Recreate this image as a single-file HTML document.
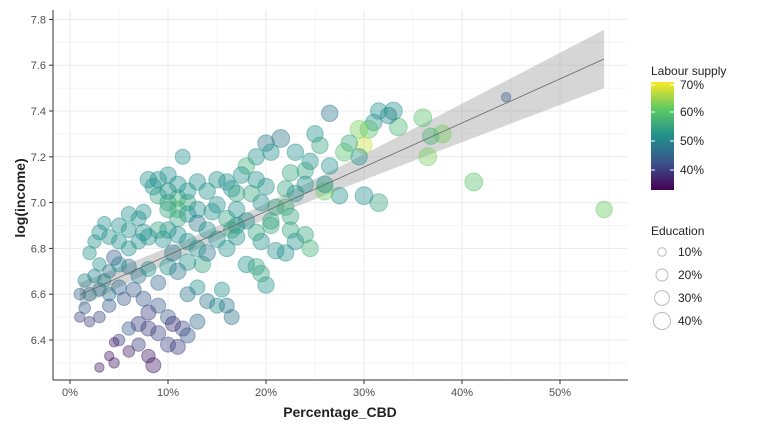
<!DOCTYPE html>
<html><head><meta charset="utf-8"><style>
body{margin:0;background:#fff;font-family:"Liberation Sans",sans-serif}
svg text{font-family:"Liberation Sans",sans-serif}
</style></head><body>
<svg id="c" width="768" height="432">
<defs><linearGradient id="vg" x1="0" y1="1" x2="0" y2="0">
<stop offset="0" stop-color="#440154"/><stop offset="0.25" stop-color="#3b528b"/><stop offset="0.5" stop-color="#21908c"/><stop offset="0.75" stop-color="#5dc963"/><stop offset="1" stop-color="#fde725"/></linearGradient></defs>
<g id="grid"></g><g id="band"></g><g id="pts"></g><g id="axes"></g>
<text font-size="14" font-weight="bold" text-anchor="middle" fill="#222" transform="rotate(-90 20 198)"><tspan x="20" y="203">log(income)</tspan></text>
<text x="340" y="417" font-size="14" font-weight="bold" text-anchor="middle" fill="#222">Percentage_CBD</text>
<g>
<text x="651" y="75" font-size="12" fill="#222">Labour supply</text>
<rect x="651" y="82" width="23" height="108" fill="url(#vg)"/>
<g id="cleg"></g>
</g>
<g>
<text x="651" y="235" font-size="12" fill="#222">Education</text>
<g id="sleg"></g>
</g>
</svg>
<script>
const ticksX=[0,10,20,30,40,50];
const ticksY=[6.4,6.6,6.8,7.0,7.2,7.4,7.6,7.8];
const pctCBD=[44.5,54.5,41.2,38,36.5,36,36.8,33.5,33,32.5,31.5,31,30.5,30,29.5,31.5,30,29.5,28.5,28,27.5,26,26,26.5,26.5,25,25.5,24.5,24,23,22.5,22,21.5,20,20.5,19,18,17.5,19,20,19.5,21,22,22.5,20.5,22.5,23,24,24.5,22,21,19.5,19,18,17,16,15,14,15,16,16.5,17,13,12,11,10,9,8.5,8,9,10,11.5,11,12,10,11,12,13,14,15,16,17,16.5,18,19,20,19.5,15.5,16.5,15,13,12,13.5,14,13,12,11,10,9.5,9,8,7.5,7,6,5,4,3,3.5,2.5,2,3,4,5,6,7,8,9,10,10.5,11,12,6,5,6,7,7.5,4.5,5,4,3,2,1.5,1,2,3,4,5.5,6.5,7.5,8,9,10,10.5,9,8,7,6,5,6,4.5,4,7,8,10,11,12,11.5,13,14,16,1,1.5,2.5,3.5,8.5,4.5,3,17,18.5,14.5,13,11,10,20.5,23,24];
const logIncome=[7.46,6.97,7.09,7.30,7.20,7.37,7.29,7.33,7.40,7.38,7.40,7.35,7.32,7.25,7.20,7.00,7.03,7.32,7.26,7.22,7.03,7.05,7.08,7.16,7.39,7.30,7.25,7.18,7.14,7.22,7.13,7.06,7.28,7.26,7.22,7.20,7.16,7.12,7.10,7.07,7.00,6.98,6.98,6.94,6.92,6.88,6.83,6.86,6.80,6.78,6.79,6.83,6.87,6.92,6.90,6.93,6.99,7.05,7.10,7.09,7.06,7.04,7.09,7.00,7.02,7.00,7.03,7.07,7.10,7.10,7.12,7.20,7.08,7.05,6.97,6.93,6.95,6.91,6.88,6.84,6.80,6.85,6.88,6.73,6.72,6.64,6.69,6.62,6.50,6.55,6.63,6.60,6.73,6.78,6.80,6.83,6.86,6.88,6.84,6.88,6.85,6.87,6.83,6.80,6.83,6.85,6.87,6.91,6.83,6.78,6.73,6.70,6.73,6.72,6.68,6.71,6.65,6.72,6.78,6.70,6.74,6.88,6.90,6.95,6.93,6.96,6.76,6.63,6.60,6.62,6.60,6.54,6.50,6.48,6.50,6.55,6.58,6.62,6.58,6.52,6.55,6.50,6.47,6.43,6.45,6.47,6.45,6.40,6.35,6.39,6.33,6.38,6.33,6.38,6.37,6.42,6.45,6.48,6.57,6.55,6.60,6.66,6.68,6.66,6.29,6.30,6.28,6.97,7.04,6.96,6.97,6.97,7.05,6.90,7.04,7.08];
const labour=[45,62,60,63,63,60,58,58,52,50,52,52,60,68,52,55,52,63,55,60,52,62,52,52,48,52,55,52,55,52,55,55,48,48,52,52,57,52,52,52,52,55,57,55,55,55,52,55,57,52,52,52,55,52,52,55,52,52,52,52,52,55,52,55,57,55,55,52,52,52,52,52,52,52,55,55,52,48,52,52,52,52,55,52,55,52,55,52,48,52,52,48,55,48,52,52,52,52,52,55,52,52,52,52,52,52,52,52,52,52,52,48,52,48,48,52,46,52,48,48,52,52,52,52,52,52,44,46,48,48,48,44,41,40,41,44,44,44,44,40,44,44,38,41,40,40,44,40,36,36,36,40,36,41,40,44,41,46,48,48,46,50,50,50,36,36,36,52,55,52,52,57,52,55,52,52];
const education=[10,30,35,35,35,35,30,35,35,30,30,30,35,30,30,35,35,35,30,35,30,35,30,30,30,30,30,30,30,30,30,30,35,30,30,30,30,30,30,30,30,30,30,30,30,30,30,30,30,30,30,30,30,30,30,30,30,30,30,30,30,30,30,30,30,30,30,30,30,30,30,25,30,30,30,30,30,30,30,30,30,30,30,30,30,30,30,25,25,25,25,25,30,30,30,30,30,30,30,30,30,30,25,25,25,25,25,20,20,20,20,20,25,25,25,25,25,30,30,30,30,25,25,25,25,25,25,25,20,20,20,15,12,12,15,20,20,25,25,25,25,25,25,25,25,25,20,15,15,10,10,20,20,25,25,25,25,25,25,25,15,20,20,20,25,12,10,30,30,30,30,30,30,30,30,30];
const NS="http://www.w3.org/2000/svg";
const L=53,R=628,T=10,B=380;
const xs=v=>70+v*9.8, ys=v=>340-(v-6.4)*229;
function mk(t,a,p){const e=document.createElementNS(NS,t);for(const k in a)e.setAttribute(k,a[k]);(p||document.getElementById('c')).appendChild(e);return e;}
const vir=[[68,1,84],[59,82,139],[33,144,140],[93,201,99],[253,231,37]];
function col(l){let t=Math.max(0,Math.min(1,(l-33)/(71-33)))*4;const i=Math.min(3,Math.floor(t)),f=t-i;const c=vir[i].map((v,j)=>Math.round(v+(vir[i+1][j]-v)*f));return `rgb(${c})`;}
const rad=e=>1.5*Math.sqrt(e);
const g=document.getElementById('grid'),ax=document.getElementById('axes');
for(let v=0;v<=55;v+=5)mk('line',{x1:xs(v),x2:xs(v),y1:T,y2:B,stroke:v%10?'#f4f4f4':'#ebebeb'},g);
for(let v=6.3;v<=7.81;v+=0.1)mk('line',{x1:L,x2:R,y1:ys(v),y2:ys(v),stroke:Math.round(v*10)%2?'#f4f4f4':'#ebebeb'},g);
mk('line',{x1:L,x2:L,y1:T,y2:B,stroke:'#333'},ax);mk('line',{x1:L,x2:R,y1:B,y2:B,stroke:'#333'},ax);
ticksX.forEach(v=>{mk('line',{x1:xs(v),x2:xs(v),y1:B,y2:B+4,stroke:'#333'},ax);const t=mk('text',{x:xs(v),y:B+16,'font-size':11,fill:'#4d4d4d','text-anchor':'middle'},ax);t.textContent=v+'%';

});
ticksY.forEach(v=>{mk('line',{x1:L-4,x2:L,y1:ys(v),y2:ys(v),stroke:'#333'},ax);const t=mk('text',{x:L-7,y:ys(v)+4,'font-size':11,fill:'#4d4d4d','text-anchor':'end'},ax);t.textContent=v.toFixed(1);

});
const n=pctCBD.length;let mx=0,my=0;for(let i=0;i<n;i++){mx+=pctCBD[i];my+=logIncome[i];}mx/=n;my/=n;
let sxx=0,sxy=0;for(let i=0;i<n;i++){sxx+=(pctCBD[i]-mx)**2;sxy+=(pctCBD[i]-mx)*(logIncome[i]-my);}
const b=sxy/sxx,a=my-b*mx;let sse=0;for(let i=0;i<n;i++)sse+=(logIncome[i]-a-b*pctCBD[i])**2;const s=Math.sqrt(sse/(n-2));
const x0=Math.min(...pctCBD),x1=Math.max(...pctCBD);let up=[],dn=[];
for(let k=0;k<=40;k++){const x=x0+(x1-x0)*k/40;const se=1.97*s*Math.sqrt(1/n+(x-mx)**2/sxx);up.push(xs(x)+','+ys(a+b*x+se));dn.unshift(xs(x)+','+ys(a+b*x-se));}
const bd=document.getElementById('band');
const bp=mk('polygon',{points:up.concat(dn).join(' '),fill:'#999','fill-opacity':0.4},bd);


const pg=document.getElementById('pts');
for(let i=0;i<n;i++){const c=mk('circle',{cx:xs(pctCBD[i]),cy:ys(logIncome[i]),r:rad(education[i]),fill:col(labour[i]),'fill-opacity':0.4,stroke:col(labour[i]),'stroke-opacity':0.45},pg);

}
const rl=mk('line',{x1:xs(x0),y1:ys(a+b*x0),x2:xs(x1),y2:ys(a+b*x1),stroke:'#666','stroke-width':0.8},pg);


const cl=document.getElementById('cleg');
[[40,170],[50,141],[60,112],[70,85]].forEach(([v,y])=>{mk('line',{x1:651,x2:655,y1:y,y2:y,stroke:'#fff'},cl);mk('line',{x1:670,x2:674,y1:y,y2:y,stroke:'#fff'},cl);const t=mk('text',{x:680,y:y+4,'font-size':12,fill:'#222'},cl);t.textContent=v+'%';});
const sl=document.getElementById('sleg');
[[10,252],[20,275],[30,298],[40,321]].forEach(([v,y])=>{mk('circle',{cx:662,cy:y,r:1.35*Math.sqrt(v),fill:'none',stroke:'#bbb'},sl);const t=mk('text',{x:678,y:y+4,'font-size':12,fill:'#222'},sl);t.textContent=v+'%';});
</script>
</body></html>
